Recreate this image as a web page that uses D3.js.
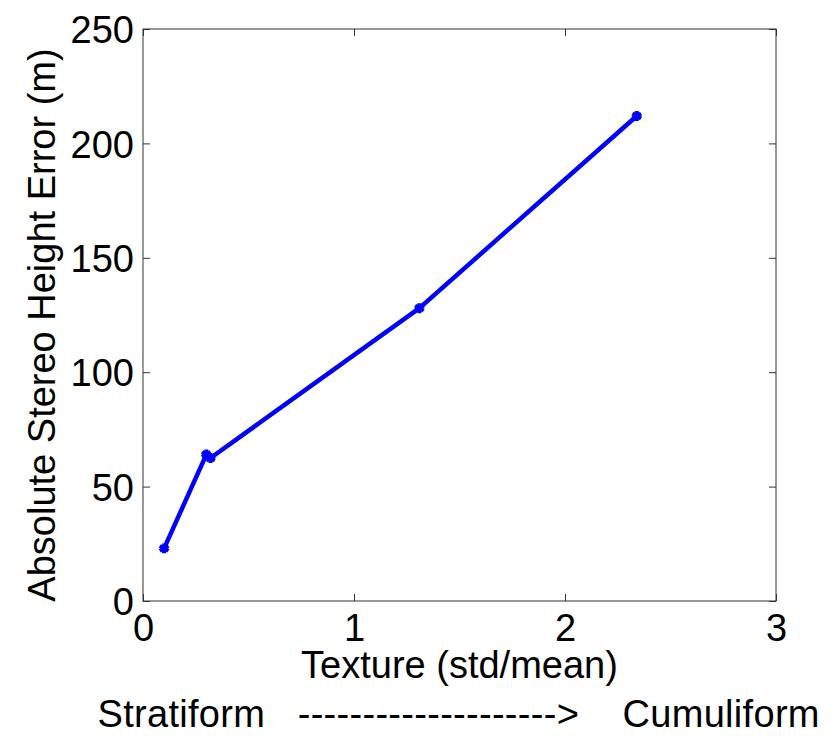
<!DOCTYPE html>
<html>
<head>
<meta charset="utf-8">
<script src="https://cdn.jsdelivr.net/npm/d3@7"></script>
<style>
  body { margin: 0; background: #fff; }
  text { font-family: "Liberation Sans", Arial, sans-serif; fill: #000; }
</style>
</head>
<body>
<svg id="chart" width="834" height="736"></svg>
<script>
// texture (std/mean) vs absolute stereo height error
const texture = [0.1, 0.3, 0.32, 1.31, 2.34];
const heightError = [23, 64, 62.5, 128, 212];
const xTicks = [0, 1, 2, 3];
const yTicks = [0, 50, 100, 150, 200, 250];

const svg = d3.select('#chart');
const margin = { left: 143, right: 58, top: 29, bottom: 135 };
const width = 834 - margin.left - margin.right;
const height = 736 - margin.top - margin.bottom;

const x = d3.scaleLinear().domain([0, 3]).range([0, width]);
const y = d3.scaleLinear().domain([0, 250]).range([height, 0]);

const g = svg.append('g')
  .attr('transform', `translate(${margin.left},${margin.top})`);

const tickLen = 7;

// inward ticks on all four sides, MATLAB style
const drawAxis = (axis, tx, ty) => {
  const a = g.append('g')
    .attr('transform', `translate(${tx},${ty})`)
    .call(axis);
  a.select('.domain').remove();
  a.selectAll('line').attr('stroke', '#333').attr('stroke-width', 1);
  return a;
};

const bottom = drawAxis(d3.axisBottom(x).tickValues(xTicks).tickFormat(d3.format('d'))
  .tickSize(-tickLen).tickPadding(13), 0, height);
bottom.selectAll('text')
  .style('font-size', '38px')
  .attr('dy', '0.71em');

drawAxis(d3.axisTop(x).tickValues(xTicks).tickSize(-tickLen).tickFormat(''), 0, 0);

const left = drawAxis(d3.axisLeft(y).tickValues(yTicks).tickFormat(d3.format('d'))
  .tickSize(-tickLen).tickPadding(9), 0, 0);
left.selectAll('text')
  .style('font-size', '38px')
  .attr('dy', '0.36em');

drawAxis(d3.axisRight(y).tickValues(yTicks).tickSize(-tickLen).tickFormat(''), width, 0);

g.append('rect')
  .attr('width', width)
  .attr('height', height)
  .attr('fill', 'none')
  .attr('stroke', '#333')
  .attr('stroke-width', 1);

const pts = texture.map((t, i) => [t, heightError[i]]);

g.append('path')
  .datum(pts)
  .attr('fill', 'none')
  .attr('stroke', '#0000ff')
  .attr('stroke-width', 4.5)
  .attr('stroke-linejoin', 'round')
  .attr('d', d3.line().x((d) => x(d[0])).y((d) => y(d[1])));

g.selectAll('path.marker')
  .data(pts)
  .enter()
  .append('path')
  .attr('class', 'marker')
  .attr('transform', (d) => `translate(${x(d[0])},${y(d[1])})`)
  .attr('d', d3.symbol().type(d3.symbolAsterisk).size(70))
  .attr('fill', 'none')
  .attr('stroke', '#0000ff')
  .attr('stroke-width', 4);

// axis labels
g.append('text')
  .attr('x', width / 2)
  .attr('y', height + 77)
  .attr('text-anchor', 'middle')
  .style('font-size', '38px')
  .text('Texture (std/mean)');

g.append('text')
  .attr('x', width / 2 - 1)
  .attr('y', height + 126)
  .attr('text-anchor', 'middle')
  .style('font-size', '38px')
  .attr('xml:space', 'preserve')
  .attr('textLength', 722)
  .attr('lengthAdjust', 'spacing')
  .text('Stratiform   -------------------->    Cumuliform');

g.append('text')
  .attr('transform', `translate(${-88},${height / 2 + 10}) rotate(-90)`)
  .attr('text-anchor', 'middle')
  .style('font-size', '38px')
  .text('Absolute Stereo Height Error (m)');
</script>
</body>
</html>
